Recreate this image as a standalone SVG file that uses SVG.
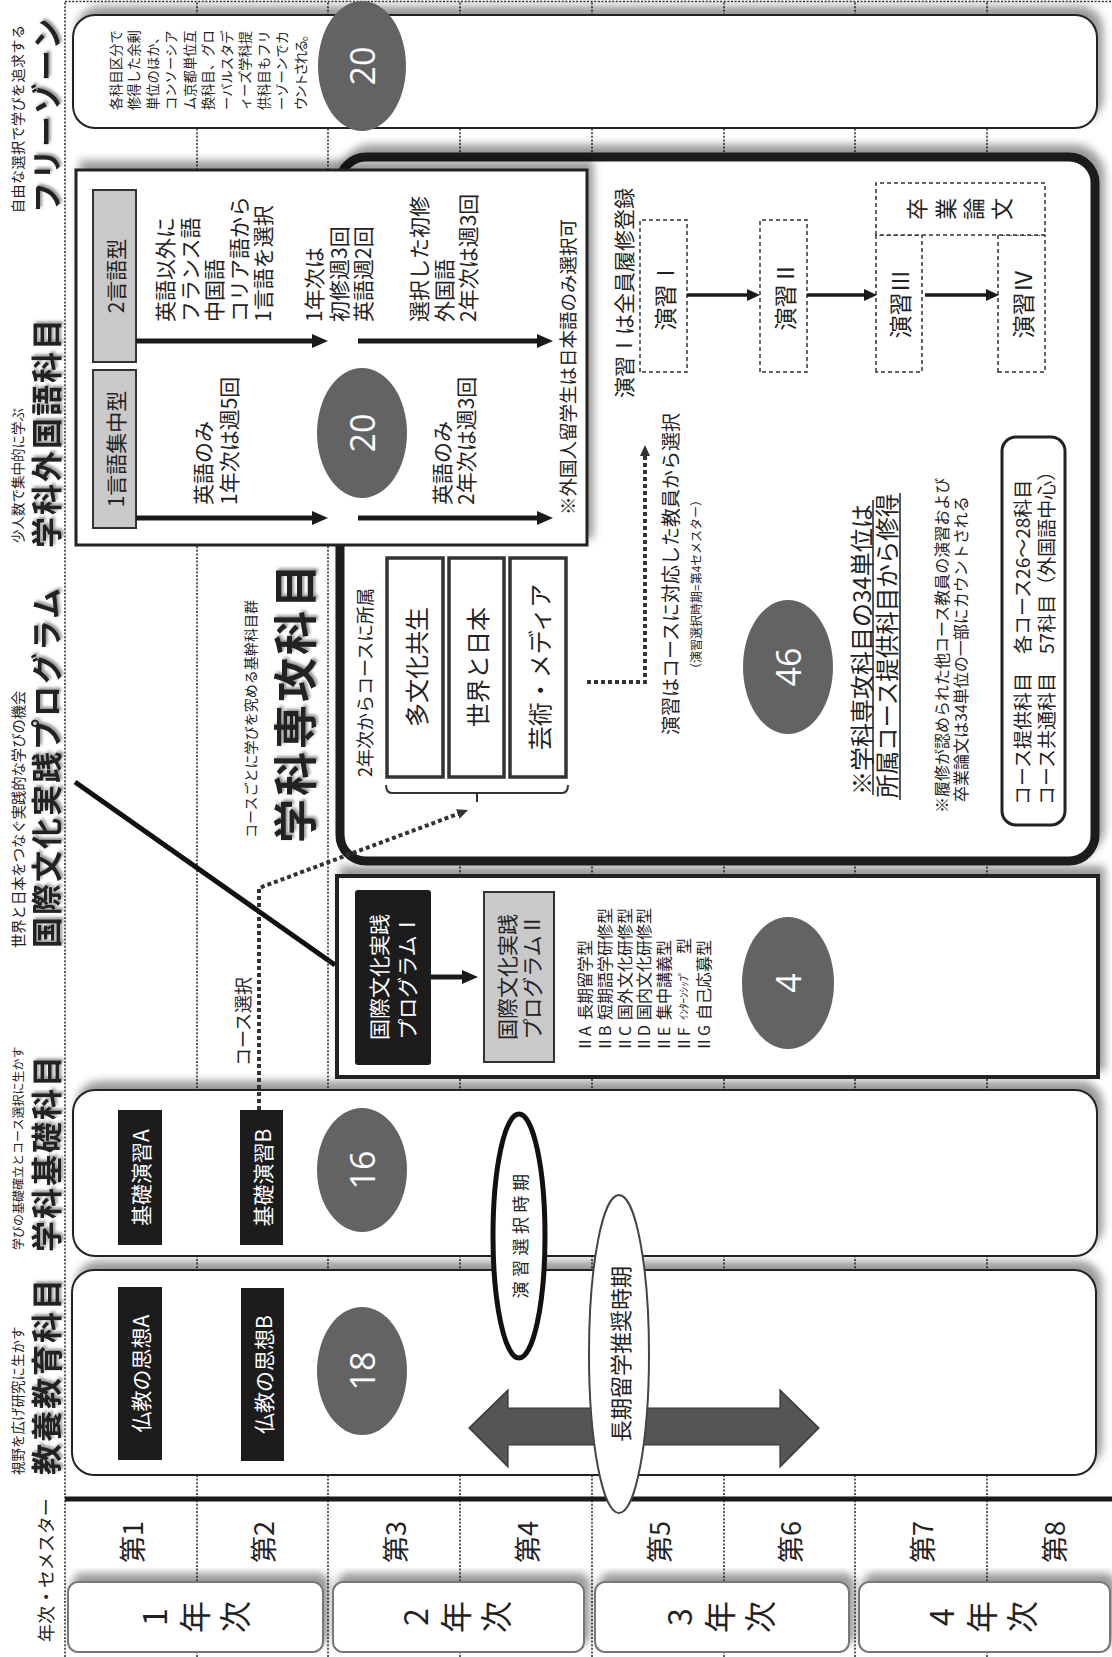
<svg xmlns="http://www.w3.org/2000/svg" width="1112" height="1657" viewBox="0 0 1112 1657">
<defs>
<style>
text{font-family:"Noto Sans CJK JP","Noto Sans",sans-serif;fill:#222}
.dot{fill:none;stroke:#333;stroke-width:1.6;stroke-dasharray:2 1.6}
.box{fill:#fff;stroke:#222;stroke-width:2}
.ell{fill:#636363}
.num{font-family:"Open Sans","Noto Sans",sans-serif;fill:#fff;font-size:34px;text-anchor:middle;dominant-baseline:central}
.blk{fill:#1c1c1c}
.gray{fill:#c9c9c9;stroke:#333;stroke-width:2}
.hb{font-size:31px;font-weight:700;letter-spacing:2px}
.hs{font-size:13.5px}
.c{text-anchor:middle;dominant-baseline:central}
.l{dominant-baseline:central}
.w{fill:#fff}
.dash{fill:#fff;stroke:#333;stroke-width:1.5;stroke-dasharray:4 3}
.arr{stroke:#1a1a1a;stroke-width:5;fill:none}
.arr3{stroke:#1a1a1a;stroke-width:3.5;fill:none}
.dotarr{stroke:#333;stroke-width:4;stroke-dasharray:4 3;fill:none}
.yb{fill:#fff;stroke:#777;stroke-width:2}
</style>
<filter id="sh" x="-10%" y="-10%" width="130%" height="130%">
<feGaussianBlur in="SourceAlpha" stdDeviation="4"/>
<feOffset dx="8" dy="5" result="b"/>
<feFlood flood-color="#000" flood-opacity="0.4"/>
<feComposite in2="b" operator="in"/>
<feMerge><feMergeNode/><feMergeNode in="SourceGraphic"/></feMerge>
</filter>
<filter id="tsh" x="-5%" y="-30%" width="110%" height="160%">
<feGaussianBlur in="SourceAlpha" stdDeviation="1.8"/>
<feOffset dx="2" dy="2" result="b"/>
<feFlood flood-color="#777" flood-opacity="0.8"/>
<feComposite in2="b" operator="in"/>
<feMerge><feMergeNode/><feMergeNode in="SourceGraphic"/></feMerge>
</filter>
<marker id="ah" viewBox="0 0 16 14" refX="1" refY="7" markerWidth="16" markerHeight="14" markerUnits="userSpaceOnUse" orient="auto"><path d="M0,0L16,7L0,14z" fill="#1a1a1a"/></marker>
<marker id="ah3" viewBox="0 0 13 12" refX="1" refY="6" markerWidth="13" markerHeight="12" markerUnits="userSpaceOnUse" orient="auto"><path d="M0,0L13,6L0,12z" fill="#1a1a1a"/></marker>
<marker id="ahd" viewBox="0 0 11 10" refX="1" refY="5" markerWidth="11" markerHeight="10" markerUnits="userSpaceOnUse" orient="auto"><path d="M0,0L11,5L0,10z" fill="#333"/></marker>
</defs>
<rect width="1112" height="1657" fill="#fff"/>
<g transform="matrix(0,-1,1,0,0,1657)">

<g id="grid">
<path class="dot" d="M0,65H1656M1655.5,65V1112M0,197H1656M0,328H1656M0,460H1656M0,592H1656M0,724H1656M0,855H1656M0,987H1656"/>
<path d="M158,65V1112" stroke="#1a1a1a" stroke-width="5"/>
<text class="l" font-size="18" x="15" y="45">年次・セメスター</text>
</g>

<g id="semesters">
<text class="c" font-size="27" x="115" y="131">第1</text>
<text class="c" font-size="27" x="115" y="262">第2</text>
<text class="c" font-size="27" x="115" y="394">第3</text>
<text class="c" font-size="27" x="115" y="526">第4</text>
<text class="c" font-size="27" x="115" y="658">第5</text>
<text class="c" font-size="27" x="115" y="789">第6</text>
<text class="c" font-size="27" x="115" y="921">第7</text>
<text class="c" font-size="27" x="115" y="1053">第8</text>
</g>

<g id="year1"><rect class="yb" x="5" y="68" width="70" height="255" rx="10" filter="url(#sh)"/><text class="c" font-size="32" x="40 40 40" y="153 193 233">1年次</text></g>
<g id="year2"><rect class="yb" x="5" y="333" width="70" height="251" rx="10" filter="url(#sh)"/><text class="c" font-size="32" x="40 40 40" y="414 454 494">2年次</text></g>
<g id="year3"><rect class="yb" x="5" y="595" width="70" height="254" rx="10" filter="url(#sh)"/><text class="c" font-size="32" x="40 40 40" y="678 718 758">3年次</text></g>
<g id="year4"><rect class="yb" x="5" y="859" width="70" height="251" rx="10" filter="url(#sh)"/><text class="c" font-size="32" x="40 40 40" y="940 980 1020">4年次</text></g>

<g id="kyouyou">
<text class="l hs" x="182" y="17">視野を広げ研究に生かす</text>
<text class="l hb" x="182" y="44" filter="url(#tsh)">教養教育科目</text>
<rect class="box" x="182" y="72" width="205" height="1024" rx="22" filter="url(#sh)"/>
<rect class="blk" x="197" y="118" width="173" height="44"/>
<text class="c w" font-size="21" x="283.5" y="140">仏教の思想A</text>
<rect class="blk" x="196" y="241" width="173" height="43"/>
<text class="c w" font-size="21" x="282.5" y="262.5">仏教の思想B</text>
<ellipse class="ell" cx="286" cy="362" rx="64" ry="45"/>
<text class="num" x="286" y="362">18</text>
<polygon points="229,469 267,508 249,508 249,780 267,780 229,819 190,780 212,780 212,508 190,508" fill="#555" stroke="#333" stroke-width="1.2"/>
</g>

<g id="kiso">
<text class="l" font-size="12" x="407" y="17">学びの基礎確立とコース選択に生かす</text>
<text class="l hb" x="405" y="44" filter="url(#tsh)">学科基礎科目</text>
<rect class="box" x="401" y="73" width="166" height="1024" rx="22" filter="url(#sh)"/>
<rect class="blk" x="412" y="118" width="135" height="44"/>
<text class="c w" font-size="21" x="479.5" y="140">基礎演習A</text>
<rect class="blk" x="412" y="240" width="135" height="43"/>
<text class="c w" font-size="21" x="479.5" y="261.5">基礎演習B</text>
<ellipse class="ell" cx="487" cy="362" rx="62" ry="45"/>
<text class="num" x="487" y="362">16</text>
</g>

<g id="kokusai">
<text class="l" font-size="14.3" x="709" y="17">世界と日本をつなぐ実践的な学びの機会</text>
<text class="l hb" x="709" y="44" filter="url(#tsh)">国際文化実践プログラム</text>
<rect x="580" y="337" width="201" height="761" fill="#fff" stroke="#222" stroke-width="4" filter="url(#sh)"/>
<rect class="blk" x="592" y="355" width="175" height="76" rx="3"/>
<text class="c w" font-size="21" x="680" y="378">国際文化実践</text>
<text class="c w" font-size="21" x="680" y="406">プログラムⅠ</text>
<rect class="gray" x="595" y="484" width="170" height="70"/>
<text class="c" font-size="21" x="680" y="506">国際文化実践</text>
<text class="c" font-size="21" x="680" y="531">プログラムⅡ</text>
<g font-size="16" class="l">
<text x="605" y="584">ⅡA<tspan x="637">長期留学型</tspan></text>
<text x="605" y="604">ⅡB<tspan x="637">短期語学研修型</tspan></text>
<text x="605" y="624">ⅡC<tspan x="637">国外文化研修型</tspan></text>
<text x="605" y="643">ⅡD<tspan x="637">国内文化研修型</tspan></text>
<text x="605" y="663">ⅡE<tspan x="637">集中講義型</tspan></text>
<text x="605" y="683">ⅡF<tspan x="637" font-size="11">ｲﾝﾀｰﾝｼｯﾌﾟ</tspan><tspan x="703">型</tspan></text>
<text x="605" y="703">ⅡG<tspan x="637">自己応募型</tspan></text>
</g>
<ellipse class="ell" cx="674" cy="788" rx="66" ry="46"/>
<text class="num" x="674" y="788">4</text>
</g>

<g id="free-zone">
<text class="l" font-size="14" x="1444" y="17" textLength="188">自由な選択で学びを追求する</text>
<text class="l hb" x="1444" y="44" filter="url(#tsh)">フリーゾーン</text>
<rect class="box" x="1529" y="73" width="113" height="1024" rx="22" filter="url(#sh)"/>
<g font-size="13.3" class="l">
<text x="1547" y="115">各科目区分で</text>
<text x="1547" y="133.5">修得した余剰</text>
<text x="1547" y="152">単位のほか、</text>
<text x="1547" y="170.5">コンソーシア</text>
<text x="1547" y="189">ム京都単位互</text>
<text x="1547" y="207.5">換科目、グロ</text>
<text x="1547" y="226">ーバルスタデ</text>
<text x="1547" y="244.5">ィーズ学科提</text>
<text x="1547" y="263">供科目もフリ</text>
<text x="1547" y="281.5">ーゾーンでカ</text>
<text x="1547" y="300" textLength="82">ウントされる。</text>
</g>
<ellipse class="ell" cx="1591" cy="362" rx="65" ry="44"/>
<text class="num" x="1591" y="362">20</text>
</g>

<g id="senkou">
<text class="l" font-size="14" x="819" y="250" textLength="238">コースごとに学びを究める基幹科目群</text>
<text class="l" font-size="44" font-weight="700" letter-spacing="3" x="814" y="293" filter="url(#tsh)">学科専攻科目</text>
<rect x="796" y="340" width="704" height="755" rx="26" fill="#fff" stroke="#1a1a1a" stroke-width="9" filter="url(#sh)"/>
<text class="l" font-size="18" x="880" y="364">2年次からコースに所属</text>
<rect x="880" y="387" width="219" height="56" fill="#fff" stroke="#333" stroke-width="3.5"/>
<text class="c" font-size="24" x="990" y="415">多文化共生</text>
<rect x="880" y="449" width="219" height="55" fill="#fff" stroke="#333" stroke-width="3.5"/>
<text class="c" font-size="24" x="990" y="476.5">世界と日本</text>
<rect x="880" y="510" width="219" height="56" fill="#fff" stroke="#333" stroke-width="3.5"/>
<text class="c" font-size="24" x="990" y="538">芸術・メディア</text>
<path d="M872,386Q864,386 864,392V562Q864,568 872,568M864,477H855" fill="none" stroke="#333" stroke-width="2"/>
<text class="l" font-size="19" x="922" y="669">演習はコースに対応した教員から選択</text>
<text class="l" font-size="12" x="982" y="695">（演習選択時期=第4セメスター）</text>
<ellipse class="ell" cx="990" cy="788" rx="67" ry="45"/>
<text class="num" x="990" y="788">46</text>
<text class="l" font-size="24" x="862" y="860">※学科専攻科目の34単位は</text>
<text class="l" font-size="23.5" x="859" y="886">所属コース提供科目から修得</text>
<path d="M862,873H1157M857,900H1164" stroke="#222" stroke-width="1.5"/>
<text class="l" font-size="16" x="844" y="941">※履修が認められた他コース教員の演習および</text>
<text class="l" font-size="16" x="855" y="960">卒業論文は34単位の一部にカウントされる</text>
<rect x="832" y="1002" width="388" height="63" rx="14" fill="#fff" stroke="#222" stroke-width="3"/>
<text class="l" font-size="19" x="852" y="1021">コース提供科目　各コース26～28科目</text>
<text class="l" font-size="19" x="852" y="1045">コース共通科目　57科目（外国語中心）</text>
<text class="l" font-size="21" x="1259" y="623">演習Ⅰは全員履修登録</text>
<rect class="dash" x="1285" y="640" width="152" height="47"/>
<text class="c" font-size="23" x="1361" y="663.5">演習Ⅰ</text>
<rect class="dash" x="1285" y="760" width="152" height="47"/>
<text class="c" font-size="23" x="1361" y="783.5">演習Ⅱ</text>
<rect class="dash" x="1285" y="876" width="137" height="46"/>
<text class="c" font-size="23" x="1353" y="899">演習Ⅲ</text>
<rect class="dash" x="1285" y="998" width="137" height="47"/>
<text class="c" font-size="23" x="1353" y="1021.5">演習Ⅳ</text>
<rect class="dash" x="1422" y="876" width="52" height="169"/>
<text class="c" font-size="22" x="1448 1448 1448 1448" y="915 944 972 1000">卒業論文</text>
</g>

<g id="gaikokugo">
<text class="l hs" x="1114" y="17">少人数で集中的に学ぶ</text>
<text class="l hb" x="1109" y="44" filter="url(#tsh)">学科外国語科目</text>
<rect x="1112" y="76" width="375" height="511" fill="#fff" stroke="#222" stroke-width="3" filter="url(#sh)"/>
<rect class="gray" x="1295" y="93" width="172" height="43"/>
<text class="c" font-size="21" x="1381" y="114.5">2言語型</text>
<rect class="gray" x="1129" y="93" width="158" height="43"/>
<text class="c" font-size="21" x="1208" y="114.5">1言語集中型</text>
<g font-size="21" class="l">
<text x="1335" y="164">英語以外に</text>
<text x="1335" y="188.5">フランス語</text>
<text x="1335" y="213">中国語</text>
<text x="1335" y="237.5">コリア語から</text>
<text x="1335" y="262">1言語を選択</text>
<text x="1335" y="313">1年次は</text>
<text x="1335" y="337.5">初修週3回</text>
<text x="1335" y="362">英語週2回</text>
<text x="1335" y="418">選択した初修</text>
<text x="1335" y="442.5">外国語</text>
<text x="1335" y="467">2年次は週3回</text>
<text x="1152" y="202">英語のみ</text>
<text x="1152" y="228">1年次は週5回</text>
<text x="1152" y="441">英語のみ</text>
<text x="1152" y="465">2年次は週3回</text>
</g>
<text class="l" font-size="18.5" x="1142" y="567">※外国人留学生は日本語のみ選択可</text>
<ellipse class="ell" cx="1224" cy="362" rx="65" ry="45"/>
<text class="num" x="1224" y="362">20</text>
</g>

<g id="connectors">
<path class="arr" d="M1316,136V313" marker-end="url(#ah)"/>
<path class="arr" d="M1316,358V538" marker-end="url(#ah)"/>
<path class="arr" d="M1139,136V313" marker-end="url(#ah)"/>
<path class="arr" d="M1139,358V538" marker-end="url(#ah)"/>
<path class="arr3" d="M1362,687V748" marker-end="url(#ah3)"/>
<path class="arr3" d="M1362,807V865" marker-end="url(#ah3)"/>
<path class="arr3" d="M1362,925V987" marker-end="url(#ah3)"/>
<path class="arr" d="M680,431V463" marker-end="url(#ah)"/>
<path class="dotarr" d="M547,259L769,259L843.4,458.7" marker-end="url(#ahd)"/>
<path class="dotarr" d="M975,587L975,645L1202,645" marker-end="url(#ahd)"/>
<path d="M875,75L692,335" stroke="#111" stroke-width="5" fill="none"/>
<text class="l" font-size="18" x="591" y="242">コース選択</text>
</g>

<g id="ensyu-period">
<ellipse cx="421" cy="519" rx="122" ry="26" fill="#fff" stroke="#111" stroke-width="5"/>
<text class="c" font-size="17" letter-spacing="4.5" x="423" y="519">演習選択時期</text>
</g>
<g id="ryugaku-period">
<ellipse cx="303" cy="619" rx="159" ry="30" fill="#fff" stroke="#444" stroke-width="2"/>
<text class="c" font-size="22" x="303" y="619">長期留学推奨時期</text>
</g>
</g>
</svg>
